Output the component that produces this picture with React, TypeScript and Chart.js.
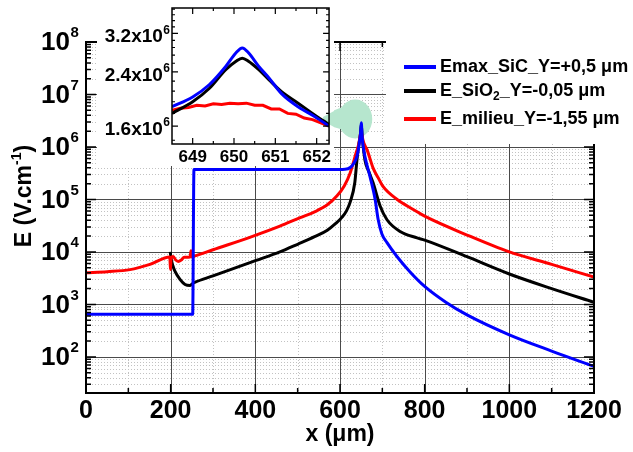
import React, { useEffect, useRef } from "react";
import { Chart, registerables } from "chart.js";

Chart.register(...registerables);

const FONT = '"Liberation Sans", Arial, Helvetica, sans-serif';

// ---------- main chart data ----------
const xTicks = [0, 200, 400, 600, 800, 1000, 1200];
const xGridMajor = [200, 400, 600, 800, 1000];
const xGridMinor = [100, 300, 500, 700, 900, 1100];
const yDecadeExps = [2, 3, 4, 5, 6, 7, 8];
const yMin = 20.5;
const yMax = 1e8;

const blueName = "Emax_SiC_Y=+0,5 μm";
const blackName = "E_SiO₂_Y=-0,05 μm";
const redName = "E_milieu_Y=-1,55 μm";

const blueX = [0, 100, 200, 252, 255, 300, 400, 500, 580, 612, 625, 632, 640, 645, 648.5, 650.2, 652.3, 655, 660, 671, 683, 690, 699, 711, 735, 765, 800, 850, 900, 1000, 1100, 1200];
const blueY = [650, 650, 650, 650, 3.7e5, 3.7e5, 3.7e5, 3.7e5, 3.7e5, 3.75e5, 4.1e5, 4.8e5, 6.6e5, 1.1e6, 1.85e6, 2.9e6, 1.59e6, 1.0e6, 6.0e5, 2.7e5, 1.0e5, 4.2e4, 2.2e4, 1.5e4, 8.1e3, 4.2e3, 2.2e3, 1.1e3, 630, 263, 129, 66];

const blackX = [199, 201, 205, 210, 222, 234, 246, 252, 258, 300, 400, 458, 500, 540, 570, 590, 605, 615, 624, 635, 640, 645, 648.5, 650.2, 652.3, 659, 668, 678, 695, 711, 742, 782, 800, 900, 1000, 1100, 1200];
const blackY = [1.0e4, 7.5e3, 5.5e3, 4.3e3, 3.0e3, 2.4e3, 2.3e3, 2.5e3, 2.65e3, 3.5e3, 6.8e3, 1.0e4, 1.4e4, 1.95e4, 2.6e4, 3.5e4, 4.6e4, 6.0e4, 8.9e4, 2.1e5, 5.6e5, 1.2e6, 1.76e6, 2.66e6, 1.62e6, 5.6e5, 3.4e5, 2.1e5, 7.4e4, 4.1e4, 2.45e4, 1.85e4, 1.68e4, 8.1e3, 3.8e3, 2.0e3, 1.1e3];

const redX = [0, 50, 104, 151, 198, 199.5, 201, 206, 212, 218, 225, 232, 246, 248, 250, 256, 300, 387, 458, 506, 540, 570, 593, 610, 624, 638, 645, 648.5, 650.2, 652.3, 656, 664, 678, 690, 702, 735, 772, 800, 900, 1000, 1100, 1200];
const redY = [4.0e3, 4.2e3, 4.6e3, 5.8e3, 8.0e3, 4.6e3, 7.8e3, 8.2e3, 7.0e3, 6.6e3, 7.0e3, 7.9e3, 8.0e3, 1.05e4, 8.0e3, 8.3e3, 1.1e4, 1.9e4, 3.1e4, 4.5e4, 5.8e4, 7.9e4, 1.17e5, 1.8e5, 3.2e5, 7.7e5, 1.2e6, 1.8e6, 1.89e6, 1.6e6, 1.2e6, 8.8e5, 4.0e5, 2.6e5, 1.75e5, 1.0e5, 6.5e4, 4.8e4, 2.1e4, 1.0e4, 5.8e3, 3.3e3];

// ---------- inset data ----------
const insetXTicks = [649, 650, 651, 652];
const insetXMinor = [649.5, 650.5, 651.5];
const insetYTicks = [1.6e6, 2.4e6, 3.2e6];
const insetYMantissa = ["1.6", "2.4", "3.2"];
const insetYMinor = [1.44e6, 1.76e6, 1.92e6, 2.08e6, 2.24e6, 2.56e6, 2.72e6, 2.88e6, 3.04e6, 3.36e6, 3.52e6, 3.68e6, 3.84e6];
const insetXMin = 648.5;
const insetXMax = 652.3;
const insetYMin = 1.4e6;
const insetYMax = 3.87e6;

const insetX = [648.5, 649, 649.4, 649.8, 650.05, 650.2, 650.35, 650.6, 650.85, 651.15, 651.55, 651.95, 652.3];
const insetBlueY = [1.85e6, 1.99e6, 2.18e6, 2.5e6, 2.77e6, 2.87e6, 2.77e6, 2.5e6, 2.29e6, 2.04e6, 1.85e6, 1.72e6, 1.6e6];
const insetBlackY = [1.76e6, 1.92e6, 2.12e6, 2.44e6, 2.6e6, 2.66e6, 2.6e6, 2.44e6, 2.26e6, 2.07e6, 1.9e6, 1.74e6, 1.62e6];
const insetRedX = [648.5, 648.7, 648.9, 649.1, 649.3, 649.5, 649.7, 649.9, 650.1, 650.3, 650.5, 650.7, 650.9, 651.1, 651.3, 651.5, 651.7, 651.9, 652.1, 652.3];
const insetRedY = [1.8e6, 1.83e6, 1.84e6, 1.87e6, 1.86e6, 1.89e6, 1.88e6, 1.9e6, 1.89e6, 1.9e6, 1.87e6, 1.87e6, 1.82e6, 1.82e6, 1.76e6, 1.75e6, 1.7e6, 1.68e6, 1.64e6, 1.6e6];

const BLUE = "#0000ff";
const BLACK = "#000000";
const RED = "#ff0000";
const GREEN_HL = "rgb(182,230,206)";

const legendItems: { color: string; parts: [string, boolean][] }[] = [
  { color: BLUE, parts: [["Emax_SiC_Y=+0,5 μm", false]] },
  { color: BLACK, parts: [["E_SiO", false], ["2", true], ["_Y=-0,05 μm", false]] },
  { color: RED, parts: [["E_milieu_Y=-1,55 μm", false]] },
];

const pts = (xs: number[], ys: number[]) => xs.map((x, i) => ({ x, y: ys[i] }));

const line = (label: string, color: string, data: any, mono = true) => ({
  label,
  data,
  borderColor: color,
  backgroundColor: color,
  borderWidth: 3,
  pointRadius: 0,
  fill: false,
  cubicInterpolationMode: mono ? "monotone" : "default",
  tension: 0,
});

const px = (v: number) => Math.round(v) + 0.5;

const mainDecor = {
  id: "mainDecor",
  beforeDatasetsDraw(chart: any) {
    const { ctx, chartArea: a, scales } = chart;
    const xs = scales.x;
    const ys = scales.y;
    ctx.save();
    ctx.lineWidth = 1;
    ctx.strokeStyle = "#c2c2c2";
    ctx.setLineDash([1, 2]);
    ctx.beginPath();
    for (const v of xGridMinor) {
      const p = px(xs.getPixelForValue(v));
      ctx.moveTo(p, a.top);
      ctx.lineTo(p, a.bottom);
    }
    for (let d = 1; d < 8; d++) {
      for (let k = 2; k <= 9; k++) {
        const v = k * Math.pow(10, d);
        if (v <= yMin || v >= yMax) continue;
        const p = px(ys.getPixelForValue(v));
        ctx.moveTo(a.left, p);
        ctx.lineTo(a.right, p);
      }
    }
    ctx.stroke();
    ctx.setLineDash([]);
    ctx.strokeStyle = "#4a4a4a";
    ctx.beginPath();
    for (const v of xGridMajor) {
      const p = px(xs.getPixelForValue(v));
      ctx.moveTo(p, a.top);
      ctx.lineTo(p, a.bottom);
    }
    for (const e of yDecadeExps) {
      const v = Math.pow(10, e);
      if (v >= yMax) continue;
      const p = px(ys.getPixelForValue(v));
      ctx.moveTo(a.left, p);
      ctx.lineTo(a.right, p);
    }
    ctx.stroke();
    const cx = xs.getPixelForValue(636);
    const cy = ys.getPixelForValue(3.4e6);
    ctx.fillStyle = GREEN_HL;
    ctx.beginPath();
    ctx.ellipse(cx, cy, 17, 19.5, 0, 0, Math.PI * 2);
    ctx.moveTo(330, cy - 7);
    ctx.lineTo(cx - 8, cy - 14);
    ctx.lineTo(cx - 8, cy + 12);
    ctx.lineTo(330, cy + 7);
    ctx.closePath();
    ctx.fill();
    ctx.restore();
  },
  afterDatasetsDraw(chart: any) {
    const { ctx, chartArea: a, scales } = chart;
    const xs = scales.x;
    const ys = scales.y;
    ctx.save();
    ctx.strokeStyle = "#000";
    ctx.lineWidth = 2;
    ctx.strokeRect(a.left, a.top, a.right - a.left, a.bottom - a.top);
    ctx.lineWidth = 1.5;
    ctx.beginPath();
    for (let d = 1; d <= 8; d++) {
      for (let k = 1; k <= 9; k++) {
        const v = k * Math.pow(10, d);
        if (v < yMin || v > yMax) continue;
        const p = ys.getPixelForValue(v);
        const len = k === 1 ? 10 : 5;
        ctx.moveTo(a.left, p);
        ctx.lineTo(a.left + len, p);
        ctx.moveTo(a.right, p);
        ctx.lineTo(a.right - len, p);
      }
    }
    for (const v of [...xTicks, ...xGridMinor]) {
      const p = xs.getPixelForValue(v);
      const len = xTicks.includes(v) ? 9 : 5;
      ctx.moveTo(p, a.bottom);
      ctx.lineTo(p, a.bottom - len);
      ctx.moveTo(p, a.top);
      ctx.lineTo(p, a.top + len);
    }
    ctx.stroke();

    ctx.fillStyle = "#fff";
    ctx.fillRect(386, 0, chart.width - 386, 144);

    const ly = [67, 91, 119];
    legendItems.forEach((it, i) => {
      ctx.strokeStyle = it.color;
      ctx.lineWidth = 4;
      ctx.beginPath();
      ctx.moveTo(404, ly[i]);
      ctx.lineTo(436, ly[i]);
      ctx.stroke();
      let x = 440;
      ctx.fillStyle = "#000";
      ctx.textBaseline = "middle";
      ctx.textAlign = "left";
      for (const [txt, sub] of it.parts) {
        ctx.font = sub ? `bold 12px ${FONT}` : `bold 18px ${FONT}`;
        ctx.fillText(txt, x, ly[i] + (sub ? 6 : 0));
        x += ctx.measureText(txt).width;
      }
    });

    ctx.fillStyle = "#000";
    ctx.textBaseline = "middle";
    for (const e of yDecadeExps) {
      const p = ys.getPixelForValue(Math.pow(10, e));
      ctx.font = `bold 26px ${FONT}`;
      ctx.textAlign = "right";
      ctx.fillText("10", 70, p + 1);
      ctx.font = `bold 15px ${FONT}`;
      ctx.textAlign = "left";
      ctx.fillText(String(e), 70.5, p - 9);
    }

    ctx.save();
    ctx.translate(25, 196);
    ctx.rotate(-Math.PI / 2);
    const t1 = "E (V.cm";
    const t2 = "-1";
    const t3 = ")";
    ctx.font = `bold 23px ${FONT}`;
    const w1 = ctx.measureText(t1).width;
    const w3 = ctx.measureText(t3).width;
    ctx.font = `bold 14px ${FONT}`;
    const w2 = ctx.measureText(t2).width;
    let sx = -(w1 + w2 + w3) / 2;
    ctx.textAlign = "left";
    ctx.textBaseline = "middle";
    ctx.font = `bold 23px ${FONT}`;
    ctx.fillText(t1, sx, 0);
    sx += w1;
    ctx.font = `bold 14px ${FONT}`;
    ctx.fillText(t2, sx, -8);
    sx += w2;
    ctx.font = `bold 23px ${FONT}`;
    ctx.fillText(t3, sx, 0);
    ctx.restore();

    ctx.restore();
  },
};

const INSET_LEFT = 97;

const insetDecor = {
  id: "insetDecor",
  beforeDatasetsDraw(chart: any) {
    const { ctx } = chart;
    ctx.save();
    ctx.fillStyle = GREEN_HL;
    ctx.beginPath();
    ctx.moveTo(323 - INSET_LEFT, 117);
    ctx.lineTo(chart.width, 111);
    ctx.lineTo(chart.width, 127);
    ctx.lineTo(323 - INSET_LEFT, 121);
    ctx.closePath();
    ctx.fill();
    ctx.restore();
  },
  afterDatasetsDraw(chart: any) {
    const { ctx, chartArea: a, scales } = chart;
    const xs = scales.x;
    const ys = scales.y;
    ctx.save();
    ctx.strokeStyle = "#000";
    ctx.lineWidth = 1.5;
    ctx.strokeRect(a.left, a.top, a.right - a.left, a.bottom - a.top);
    ctx.lineWidth = 1.2;
    ctx.beginPath();
    for (const v of [...insetYTicks, ...insetYMinor]) {
      const p = ys.getPixelForValue(v);
      const len = insetYTicks.includes(v) ? 6 : 3;
      ctx.moveTo(a.left, p);
      ctx.lineTo(a.left + len, p);
      ctx.moveTo(a.right, p);
      ctx.lineTo(a.right - len, p);
    }
    for (const v of [...insetXTicks, ...insetXMinor]) {
      const p = xs.getPixelForValue(v);
      const len = insetXTicks.includes(v) ? 6 : 3;
      ctx.moveTo(p, a.bottom);
      ctx.lineTo(p, a.bottom - len);
      ctx.moveTo(p, a.top);
      ctx.lineTo(p, a.top + len);
    }
    ctx.stroke();
    ctx.fillStyle = "#000";
    ctx.textBaseline = "middle";
    ctx.textAlign = "right";
    insetYTicks.forEach((v, i) => {
      const p = ys.getPixelForValue(v);
      ctx.font = `bold 12px ${FONT}`;
      const we = ctx.measureText("6").width;
      ctx.fillText("6", 73, p - 3);
      ctx.font = `bold 19px ${FONT}`;
      ctx.fillText(insetYMantissa[i] + "x10", 73 - we - 0.5, p + 3.5);
    });
    ctx.restore();
  },
};

export default function App() {
  const mainRef = useRef<HTMLCanvasElement>(null);
  const insetRef = useRef<HTMLCanvasElement>(null);

  useEffect(() => {
    document.body.style.margin = "0";
    const main = new Chart(mainRef.current as HTMLCanvasElement, {
      type: "line",
      data: {
        datasets: [
          line(blueName, BLUE, pts(blueX, blueY)),
          line(redName, RED, pts(redX, redY)),
          line(blackName, BLACK, pts(blackX, blackY)),
        ] as any,
      },
      options: {
        animation: false,
        responsive: false,
        events: [],
        layout: { padding: { left: 0, top: 42, right: 39, bottom: 0 } },
        plugins: { legend: { display: false }, tooltip: { enabled: false } },
        scales: {
          x: {
            type: "linear",
            min: 0,
            max: 1200,
            afterFit: (s: any) => {
              s.height = 59;
            },
            afterBuildTicks: (s: any) => {
              s.ticks = xTicks.map((v) => ({ value: v }));
            },
            grid: { display: false, drawTicks: false },
            border: { display: false },
            ticks: {
              color: "#000",
              padding: 3,
              maxRotation: 0,
              autoSkip: false,
              font: { family: FONT, size: 25, weight: "bold" },
              callback: (v: any) => String(v),
            },
            title: {
              display: true,
              text: "x (μm)",
              color: "#000",
              font: { family: FONT, size: 23, weight: "bold" },
              padding: { top: 0, bottom: 4 },
            },
          },
          y: {
            type: "logarithmic",
            min: yMin,
            max: yMax,
            afterFit: (s: any) => {
              s.width = 86;
            },
            grid: { display: false, drawTicks: false },
            border: { display: false },
            ticks: { display: false },
          },
        },
      } as any,
      plugins: [mainDecor],
    });

    const inset = new Chart(insetRef.current as HTMLCanvasElement, {
      type: "line",
      data: {
        datasets: [
          line(blueName, BLUE, pts(insetX, insetBlueY)),
          line(blackName, BLACK, pts(insetX, insetBlackY)),
          line(redName, RED, pts(insetRedX, insetRedY), false),
        ] as any,
      },
      options: {
        animation: false,
        responsive: false,
        events: [],
        layout: { padding: { left: 0, top: 8, right: 2, bottom: 0 } },
        plugins: { legend: { display: false }, tooltip: { enabled: false } },
        scales: {
          x: {
            type: "linear",
            min: insetXMin,
            max: insetXMax,
            afterFit: (s: any) => {
              s.height = 22;
            },
            afterBuildTicks: (s: any) => {
              s.ticks = insetXTicks.map((v) => ({ value: v }));
            },
            grid: { display: false, drawTicks: false },
            border: { display: false },
            ticks: {
              color: "#000",
              padding: 3,
              maxRotation: 0,
              autoSkip: false,
              font: { family: FONT, size: 17, weight: "bold" },
              callback: (v: any) => String(v),
            },
          },
          y: {
            type: "logarithmic",
            min: insetYMin,
            max: insetYMax,
            afterFit: (s: any) => {
              s.width = 75;
            },
            grid: { display: false, drawTicks: false },
            border: { display: false },
            ticks: { display: false },
          },
        },
      } as any,
      plugins: [insetDecor],
    });

    return () => {
      main.destroy();
      inset.destroy();
    };
  }, []);

  return (
    <div style={{ position: "relative", width: 633, height: 452, background: "#fff" }}>
      <canvas
        ref={mainRef}
        width={633}
        height={452}
        style={{ position: "absolute", left: 0, top: 0 }}
      />
      <canvas
        ref={insetRef}
        width={237}
        height={166}
        style={{ position: "absolute", left: INSET_LEFT, top: 0, background: "#fff" }}
      />
    </div>
  );
}
